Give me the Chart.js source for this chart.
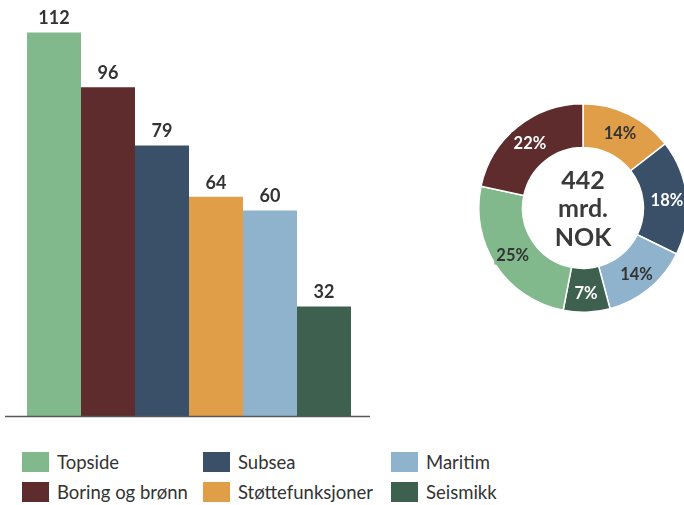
<!DOCTYPE html>
<html>
<head>
<meta charset="utf-8">
<script src="https://cdn.jsdelivr.net/npm/chart.js@4/dist/chart.umd.min.js"></script>
<style>
  html, body { margin:0; padding:0; width:684px; height:505px; overflow:hidden; background:#fff; font-family: Lato, "Open Sans", sans-serif; }
  #barWrap { position:absolute; left:0; top:0; width:380px; height:420px; }
  #donutWrap { position:absolute; left:478px; top:103px; width:210px; height:210px; }
  #legend { position:absolute; left:22px; top:447px; display:grid; grid-template-columns:181px 188px 200px; grid-auto-rows:30px; }
  .item { display:flex; align-items:center; font-size:18.5px; color:#333; white-space:nowrap; }
  .box { width:27px; height:20px; margin-right:8px; flex:none; }
</style>
</head>
<body>
<div id="barWrap"><canvas id="bar"></canvas></div>
<div id="donutWrap"><canvas id="donut"></canvas></div>
<div id="legend"></div>
<script>
const categories = ["Topside", "Boring og brønn", "Subsea", "Støttefunksjoner", "Maritim", "Seismikk"];
const values = [112, 96, 79, 64, 60, 32];
const colors = ["#82b98c", "#5e2c2c", "#3a5068", "#e09e48", "#8fb2cd", "#3e604e"];
// donut order (clockwise from top)
const donutOrder = ["Støttefunksjoner", "Subsea", "Maritim", "Seismikk", "Topside", "Boring og brønn"];
const donutPercents = [14, 18, 14, 7, 25, 22];
const donutLabelDark = [true, false, true, false, true, false];
const centerText = ["442", "mrd.", "NOK"];
const legendOrder = ["Topside", "Subsea", "Maritim", "Boring og brønn", "Støttefunksjoner", "Seismikk"];

const FONT = 'Lato, "Open Sans", sans-serif';

// Bar chart: one category, each series a bar so bars sit side by side
const barValueLabels = {
  id: 'barValueLabels',
  afterDatasetsDraw(chart) {
    const ctx = chart.ctx;
    ctx.save();
    ctx.font = 'bold 18px ' + FONT;
    ctx.fillStyle = '#333';
    ctx.textAlign = 'center';
    ctx.textBaseline = 'bottom';
    chart.data.datasets.forEach((ds, i) => {
      const el = chart.getDatasetMeta(i).data[0];
      ctx.fillText(String(ds.data[0]), el.x, el.y - 5);
    });
    ctx.restore();
  }
};
const baseLine = {
  id: 'baseLine',
  afterDatasetsDraw(chart) {
    const { ctx, chartArea } = chart;
    ctx.save();
    ctx.strokeStyle = '#5a5a5a';
    ctx.lineWidth = 1.5;
    ctx.beginPath();
    ctx.moveTo(chartArea.left, chartArea.bottom + 0.5);
    ctx.lineTo(chartArea.right - 3, chartArea.bottom + 0.5);
    ctx.stroke();
    ctx.restore();
  }
};

new Chart(document.getElementById('bar'), {
  type: 'bar',
  data: {
    labels: [''],
    datasets: categories.map((c, i) => ({
      label: c,
      data: [values[i]],
      backgroundColor: colors[i],
      borderWidth: 0,
      barPercentage: 1,
      categoryPercentage: 0.8804
    }))
  },
  options: {
    responsive: true,
    maintainAspectRatio: false,
    animation: false,
    layout: { padding: { left: 5, right: 7, top: 5, bottom: 4 } },
    scales: {
      x: { display: false },
      y: { display: false, min: 0, max: 120 }
    },
    plugins: { legend: { display: false }, tooltip: { enabled: false } }
  },
  plugins: [barValueLabels, baseLine]
});

// Donut
const donutValues = donutOrder.map(n => values[categories.indexOf(n)]);
const donutColors = donutOrder.map(n => colors[categories.indexOf(n)]);

const donutLabels = {
  id: 'donutLabels',
  afterDatasetsDraw(chart) {
    const ctx = chart.ctx;
    const meta = chart.getDatasetMeta(0);
    ctx.save();
    ctx.font = 'bold 16.5px ' + FONT;
    ctx.textAlign = 'center';
    ctx.textBaseline = 'middle';
    meta.data.forEach((arc, i) => {
      const mid = (arc.startAngle + arc.endAngle) / 2;
      const r = (arc.innerRadius + arc.outerRadius) / 2 + 2;
      const x = arc.x + Math.cos(mid) * r;
      const y = arc.y + Math.sin(mid) * r;
      const t = donutPercents[i] + '%';
      const w = ctx.measureText(t).width + 4;
      ctx.fillStyle = donutColors[i];
      ctx.fillRect(x - w / 2, y - 10, w, 20);
      ctx.fillStyle = donutLabelDark[i] ? '#333' : '#fff';
      ctx.fillText(t, x, y + 1);
    });
    // centre text
    const c = meta.data[0];
    ctx.fillStyle = '#3a3a3a';
    ctx.font = 'bold 25px ' + FONT;
    ctx.fillText(centerText[0], c.x, c.y - 27);
    ctx.fillText(centerText[1], c.x, c.y + 1);
    ctx.fillText(centerText[2], c.x, c.y + 30);
    ctx.restore();
  }
};

new Chart(document.getElementById('donut'), {
  type: 'doughnut',
  data: {
    labels: donutOrder,
    datasets: [{
      data: donutValues,
      backgroundColor: donutColors,
      borderColor: '#fff',
      borderWidth: 1.5
    }]
  },
  options: {
    responsive: true,
    maintainAspectRatio: false,
    animation: false,
    cutout: '58%',
    layout: { padding: 0 },
    plugins: { legend: { display: false }, tooltip: { enabled: false } }
  },
  plugins: [donutLabels]
});

// Legend
const legendEl = document.getElementById('legend');
legendOrder.forEach(n => {
  const i = categories.indexOf(n);
  const d = document.createElement('div');
  d.className = 'item';
  d.innerHTML = '<span class="box" style="background:' + colors[i] + '"></span><span></span>';
  d.lastChild.textContent = n;
  legendEl.appendChild(d);
});
</script>
</body>
</html>
